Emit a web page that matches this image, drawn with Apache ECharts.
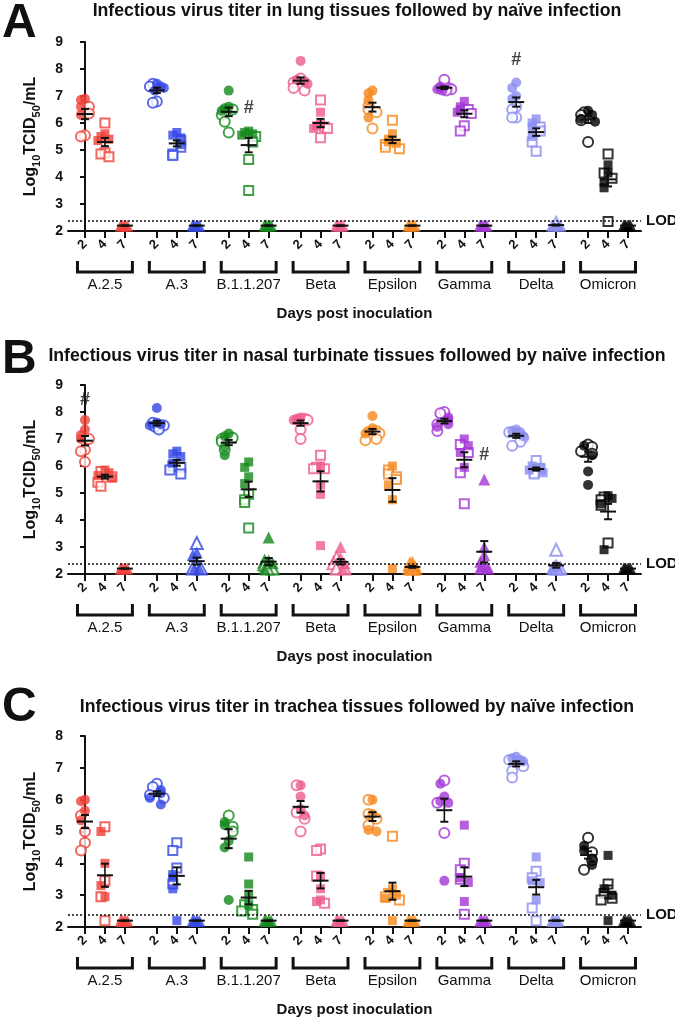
<!DOCTYPE html>
<html>
<head>
<meta charset="utf-8">
<script src="https://cdn.jsdelivr.net/npm/echarts@6/dist/echarts.min.js"></script>
<style>
  html, body { margin: 0; padding: 0; background: #fff; }
  #chart { width: 675px; height: 1018px; }
</style>
</head>
<body>
<div id="chart"></div>
<script>
// variant groups, day labels and colours
const variants = ['A.2.5', 'A.3', 'B.1.1.207', 'Beta', 'Epsilon', 'Gamma', 'Delta', 'Omicron'];
const dayLabels = ['2', '4', '7'];
const variantColors = ['#EF4138', '#3547E4', '#14881B', '#EE5B8D', '#F5881E', '#A437D6', '#8B8DF0', '#000000'];
const LOD = 2.38;

// Log10 TCID50/mL, per variant: [day 2, day 4, day 7]; filled and open symbols
const lungFilled = [
    [[6.9, 6.85, 6.6, 6.3], [5.6, 5.5, 5.4, 5.35], [2.2, 2.2, 2.2, 2.2]],
    [[7.45, 7.35, 7.3, 7.2], [5.65, 5.55, 5.45, 5.2], [2.2, 2.2, 2.2, 2.2]],
    [[7.2, 6.6, 6.55, 6.45], [5.7, 5.65, 5.6, 5.55], [2.2, 2.2, 2.2, 2.2]],
    [[8.3, 7.6, 7.55, 7.45], [6.4, 5.95, 5.9, 5.8], [2.2, 2.2, 2.2, 2.2]],
    [[7.2, 7.1, 6.85, 6.2], [5.6, 5.4, 5.3, 5.25], [2.2, 2.2, 2.2, 2.2]],
    [[7.35, 7.3, 7.25, 7.2], [6.8, 6.6, 6.5, 6.4], [2.2, 2.2, 2.2, 2.2]],
    [[7.5, 7.3, 7.0, 6.9], [6.15, 6.0, 5.85, 5.5], [2.2, 2.2, 2.2, 2.2]],
    [[6.45, 6.3, 6.15, 6.05], [4.45, 4.15, 3.8, 3.6], [2.2, 2.2, 2.2, 2.2]]
];
const lungOpen = [
    [[6.6, 6.35, 5.55, 5.5], [6.0, 4.9, 4.85, 4.75], []],
    [[7.45, 7.35, 6.8, 6.75], [5.35, 5.1, 4.85, 4.8], []],
    [[6.5, 6.3, 6.05, 5.65], [5.5, 5.3, 4.65, 3.5], []],
    [[7.65, 7.5, 7.3, 7.2], [6.85, 5.85, 5.8, 5.45], []],
    [[6.65, 6.5, 6.4, 5.8], [6.1, 5.2, 5.1, 5.05], []],
    [[7.6, 7.3, 7.25, 7.2], [6.5, 6.35, 5.9, 5.7], []],
    [[6.6, 6.5, 6.2, 6.2], [5.85, 5.7, 5.3, 4.95], [2.3]],
    [[6.4, 6.3, 6.1, 5.3], [4.85, 4.15, 3.95, 2.35], []]
];
const nasalFilled = [
    [[7.7, 7.35, 7.15, 7.0], [5.85, 5.75, 5.65, 5.55], [2.2, 2.2, 2.2, 2.2]],
    [[8.15, 7.6, 7.55, 7.5], [6.55, 6.45, 6.35, 6.1], [2.8, 2.7, 2.2, 2.2]],
    [[7.2, 7.1, 6.7, 6.4], [6.15, 5.95, 5.6, 5.35], [3.35, 2.5, 2.4, 2.2]],
    [[7.8, 7.75, 7.7, 7.65], [6.0, 5.3, 4.95, 3.05], [3.0, 2.6, 2.4, 2.2]],
    [[7.85, 7.4, 7.3, 7.2], [6.0, 5.3, 4.75, 2.2], [2.45, 2.3, 2.2, 2.2]],
    [[7.8, 7.7, 7.55, 7.45], [7.0, 6.75, 6.5, 5.95], [5.5, 3.0, 2.7, 2.45, 2.3, 2.25, 2.2, 2.2]],
    [[7.35, 7.3, 7.25, 7.1], [6.0, 5.95, 5.85, 5.75], [2.35, 2.3, 2.2, 2.2]],
    [[6.75, 6.4, 5.8, 5.3], [4.9, 4.8, 4.6, 2.9], [2.2, 2.2, 2.2, 2.2]]
];
const nasalOpen = [
    [[7.0, 6.6, 6.55, 6.15], [5.8, 5.6, 5.4, 5.25], []],
    [[7.6, 7.5, 7.45, 7.35], [6.0, 5.95, 5.85, 5.7], [3.15, 2.35, 2.2, 2.2]],
    [[7.05, 7.0, 6.9, 6.6], [4.95, 4.75, 4.65, 3.7], [2.45, 2.35, 2.2, 2.2]],
    [[7.75, 7.7, 7.35, 7.0], [6.4, 5.95, 5.9, 5.9], [2.6, 2.4, 2.2, 2.2]],
    [[7.3, 7.2, 7.0, 6.95], [5.85, 5.7, 5.6, 5.5], [2.35, 2.2, 2.2, 2.2]],
    [[8.0, 7.95, 7.55, 7.3], [6.8, 6.5, 5.75, 4.6], []],
    [[7.25, 7.05, 6.9, 6.75], [6.2, 5.9, 5.75, 5.7], [2.9, 2.2, 2.2, 2.2]],
    [[6.8, 6.7, 6.55, 6.45], [4.85, 4.75, 4.55, 3.15], []]
];
const tracheaFilled = [
    [[6.0, 5.95, 5.65, 5.35], [5.0, 4.0, 3.3, 2.95], [2.2, 2.2, 2.2, 2.2]],
    [[6.3, 6.2, 6.05, 5.85], [3.65, 3.55, 3.2, 2.2], [2.2, 2.2, 2.2, 2.2]],
    [[5.3, 5.2, 4.7, 4.5, 2.85], [4.2, 3.35, 3.0, 2.7], [2.2, 2.2, 2.2, 2.2]],
    [[6.45, 6.1, 5.7, 5.5], [3.6, 3.2, 2.85, 2.8], [2.2, 2.2, 2.2, 2.2]],
    [[6.0, 5.55, 5.05, 5.0], [3.2, 3.0, 2.9, 2.2], [2.2, 2.2, 2.2, 2.2]],
    [[6.5, 6.1, 5.95, 5.9, 3.45], [5.2, 3.55, 3.4, 2.8], [2.2, 2.2, 2.2, 2.2]],
    [[7.35, 7.3, 7.25, 7.2], [4.2, 3.45, 3.4, 2.85], [2.2, 2.2, 2.2, 2.2]],
    [[4.55, 4.4, 4.15, 3.95], [4.25, 3.2, 3.0, 2.2], [2.2, 2.2, 2.2, 2.2]]
];
const tracheaOpen = [
    [[5.5, 5.0, 4.65, 4.4], [5.15, 3.45, 2.95, 2.2], []],
    [[6.5, 6.4, 6.15, 6.05], [4.65, 4.4, 3.85, 3.35], []],
    [[5.5, 5.15, 5.0], [2.7, 2.55, 2.5, 2.4], []],
    [[6.45, 5.6, 5.4, 5.0], [4.45, 4.4, 3.6, 2.75], []],
    [[6.0, 5.55, 5.4, 5.2], [4.85, 3.05, 2.95, 2.85], []],
    [[6.6, 5.9, 4.95], [4.0, 3.8, 3.5, 2.4], []],
    [[7.25, 7.05, 6.9, 6.7], [3.75, 3.55, 2.6, 2.2], []],
    [[4.8, 4.35, 4.1, 3.8], [3.35, 3.05, 2.9, 2.85], []]
];
// significance marks: [variant, day index, y]
const lungHash = [['B.1.1.207', 1, 6.55], ['Delta', 0, 8.35]];
const nasalHash = [['A.2.5', 0, 8.45], ['Gamma', 2, 6.4]];
const tracheaHash = [];

const titles = [
    'Infectious virus titer in lung tissues followed by naïve infection',
    'Infectious virus titer in nasal turbinate tissues followed by naïve infection',
    'Infectious virus titer in trachea tissues followed by naïve infection'
];

const FONT = '"Liberation Sans", Arial, Helvetica, sans-serif';
const X_STEP = 3.6;
const xOf = (g, d) => +(g * X_STEP + d).toFixed(2);
const symbols = ['circle', 'rect', 'triangle'];
const symbolSizes = [10, 9, 12];

const panels = [
    {letter: 'A', filled: lungFilled, open: lungOpen, hash: lungHash, yMax: 9, top: 42, height: 189, titleY: 11, letterY: 0},
    {letter: 'B', filled: nasalFilled, open: nasalOpen, hash: nasalHash, yMax: 9, top: 385, height: 189, titleY: 356, letterY: 336},
    {letter: 'C', filled: tracheaFilled, open: tracheaOpen, hash: tracheaHash, yMax: 8, top: 736, height: 191, titleY: 707, letterY: 684}
];

const tickValues = [];
const tickText = {};
variants.forEach((v, g) => dayLabels.forEach((d, i) => {
    tickValues.push(xOf(g, i));
    tickText[xOf(g, i).toFixed(2)] = d;
}));

const grid = [], xAxis = [], yAxis = [], series = [], graphic = [];

panels.forEach((p, pi) => {
    grid.push({left: 68, width: 573, top: p.top, height: p.height});
    xAxis.push({
        type: 'value', gridIndex: pi, min: -0.85, max: 27.85,
        axisLine: {lineStyle: {color: '#111', width: 2}},
        axisTick: {customValues: tickValues, length: 7, lineStyle: {color: '#111', width: 2}},
        axisLabel: {
            customValues: tickValues, rotate: 45, margin: 11,
            fontFamily: FONT, fontSize: 13, fontWeight: 'bold', color: '#111',
            formatter: v => tickText[(+v).toFixed(2)] || ''
        },
        splitLine: {show: false},
        name: 'Days post inoculation', nameLocation: 'middle', nameGap: 75,
        nameTextStyle: {fontFamily: FONT, fontSize: 15, fontWeight: 'bold', color: '#111'}
    });
    yAxis.push({
        type: 'value', gridIndex: pi, min: 2, max: p.yMax, interval: 1,
        axisLine: {show: true, lineStyle: {color: '#111', width: 2}},
        axisTick: {show: true, length: 5, lineStyle: {color: '#111', width: 2}},
        axisLabel: {fontFamily: FONT, fontSize: 14, fontWeight: 'bold', color: '#111', margin: 5},
        splitLine: {show: false},
        name: '{t|Log}{s|10}{t|TCID}{s|50}{t|/mL}',
        nameLocation: 'middle', nameGap: 26,
        nameTextStyle: {
            rich: {
                t: {fontFamily: FONT, fontSize: 16, fontWeight: 'bold', color: '#111', lineHeight: 22, verticalAlign: 'middle'},
                s: {fontFamily: FONT, fontSize: 11, fontWeight: 'bold', color: '#111', lineHeight: 22, verticalAlign: 'bottom'}
            }
        }
    });

    // beeswarm-like horizontal spread so stacked points stay visible
    const pxPerUnit = p.height / (p.yMax - 2);
    const tol = 8 / pxPerUnit;
    const slots = [0, -4, 4, -7, 7, -2, 2, 0];
    const filledItems = [], openItems = [], bars = [];
    variants.forEach((v, g) => {
        for (let d = 0; d < 3; d++) {
            const pts = p.filled[g][d].map(y => ({y, f: true})).concat(p.open[g][d].map(y => ({y, f: false})));
            pts.sort((a, b) => b.y - a.y);
            const placed = [];
            pts.forEach(pt => {
                const n = placed.filter(q => Math.abs(q - pt.y) < tol).length;
                placed.push(pt.y);
                const spread = pt.y < LOD ? 0.6 : 1;
                const item = {
                    value: [xOf(g, d), pt.y],
                    symbol: symbols[d],
                    symbolSize: symbolSizes[d],
                    symbolOffset: [slots[n % slots.length] * spread, 0],
                    itemStyle: pt.f
                        ? {color: variantColors[g]}
                        : {color: '#fff', borderColor: variantColors[g], borderWidth: 2}
                };
                (pt.f ? filledItems : openItems).push(item);
            });
            const all = pts.map(q => q.y);
            const mean = all.reduce((a, b) => a + b, 0) / all.length;
            const sd = Math.sqrt(all.reduce((a, b) => a + (b - mean) * (b - mean), 0) / (all.length - 1));
            bars.push([xOf(g, d), mean, sd / Math.sqrt(all.length)]);
        }
    });

    series.push({
        type: 'scatter', xAxisIndex: pi, yAxisIndex: pi, z: 2, silent: true,
        data: openItems,
        markLine: {
            silent: true, symbol: ['none', 'none'],
            lineStyle: {type: [2, 2], color: '#111', width: 1.5},
            label: {show: true, position: 'end', formatter: 'LOD', distance: 5,
                fontFamily: FONT, fontSize: 15, fontWeight: 'bold', color: '#111'},
            data: [{yAxis: LOD}]
        }
    });
    series.push({type: 'scatter', xAxisIndex: pi, yAxisIndex: pi, z: 3, silent: true, data: filledItems});

    // mean ± SEM
    series.push({
        type: 'custom', xAxisIndex: pi, yAxisIndex: pi, z: 5, silent: true, clip: false,
        data: bars,
        renderItem: (params, api) => {
            const x = api.value(0), m = api.value(1), s = api.value(2);
            const c = api.coord([x, m]);
            const hi = api.coord([x, m + s]);
            const lo = api.coord([x, m - s]);
            const st = {stroke: '#111', lineWidth: 2};
            return {
                type: 'group',
                children: [
                    {type: 'line', shape: {x1: c[0] - 8, y1: c[1], x2: c[0] + 8, y2: c[1]}, style: st},
                    {type: 'line', shape: {x1: c[0], y1: hi[1], x2: c[0], y2: lo[1]}, style: {stroke: '#111', lineWidth: 1.6}},
                    {type: 'line', shape: {x1: c[0] - 4, y1: hi[1], x2: c[0] + 4, y2: hi[1]}, style: st},
                    {type: 'line', shape: {x1: c[0] - 4, y1: lo[1], x2: c[0] + 4, y2: lo[1]}, style: st}
                ]
            };
        }
    });

    // group brackets and variant names under the day ticks
    series.push({
        type: 'custom', xAxisIndex: pi, yAxisIndex: pi, z: 1, silent: true, clip: false,
        data: variants.map((v, g) => [xOf(g, 1), 2]),
        renderItem: (params, api) => {
            const cx = api.value(0);
            const a = api.coord([cx - 1.375, 2]);
            const b = api.coord([cx + 1.375, 2]);
            const y0 = a[1];
            return {
                type: 'group',
                children: [
                    {type: 'polyline', shape: {points: [[a[0], y0 + 30], [a[0], y0 + 41], [b[0], y0 + 41], [b[0], y0 + 30]]},
                        style: {stroke: '#111', lineWidth: 3, fill: null}},
                    {type: 'text', style: {text: variants[params.dataIndex], x: (a[0] + b[0]) / 2, y: y0 + 54,
                        textAlign: 'center', textVerticalAlign: 'middle',
                        font: '15px ' + FONT, fill: '#111'}}
                ]
            };
        }
    });

    // '#' marks
    series.push({
        type: 'scatter', xAxisIndex: pi, yAxisIndex: pi, z: 6, silent: true, symbolSize: 0,
        data: p.hash.map(h => [xOf(variants.indexOf(h[0]), h[1]), h[2]]),
        label: {show: true, position: 'inside', formatter: '#', fontFamily: FONT, fontSize: 18, fontWeight: 'bold', color: '#111'}
    });

    graphic.push({type: 'text', style: {text: p.letter, x: 2, y: p.letterY, font: 'bold 48px ' + FONT, fill: '#111'}});
    graphic.push({type: 'text', style: {text: titles[pi], x: 357, y: p.titleY, textAlign: 'center', textVerticalAlign: 'middle',
        font: 'bold 17.7px ' + FONT, fill: '#111'}});
});

const chart = echarts.init(document.getElementById('chart'), null, {renderer: 'canvas'});
chart.setOption({
    animation: false,
    backgroundColor: '#fff',
    grid, xAxis, yAxis, series, graphic
});
</script>
</body>
</html>
